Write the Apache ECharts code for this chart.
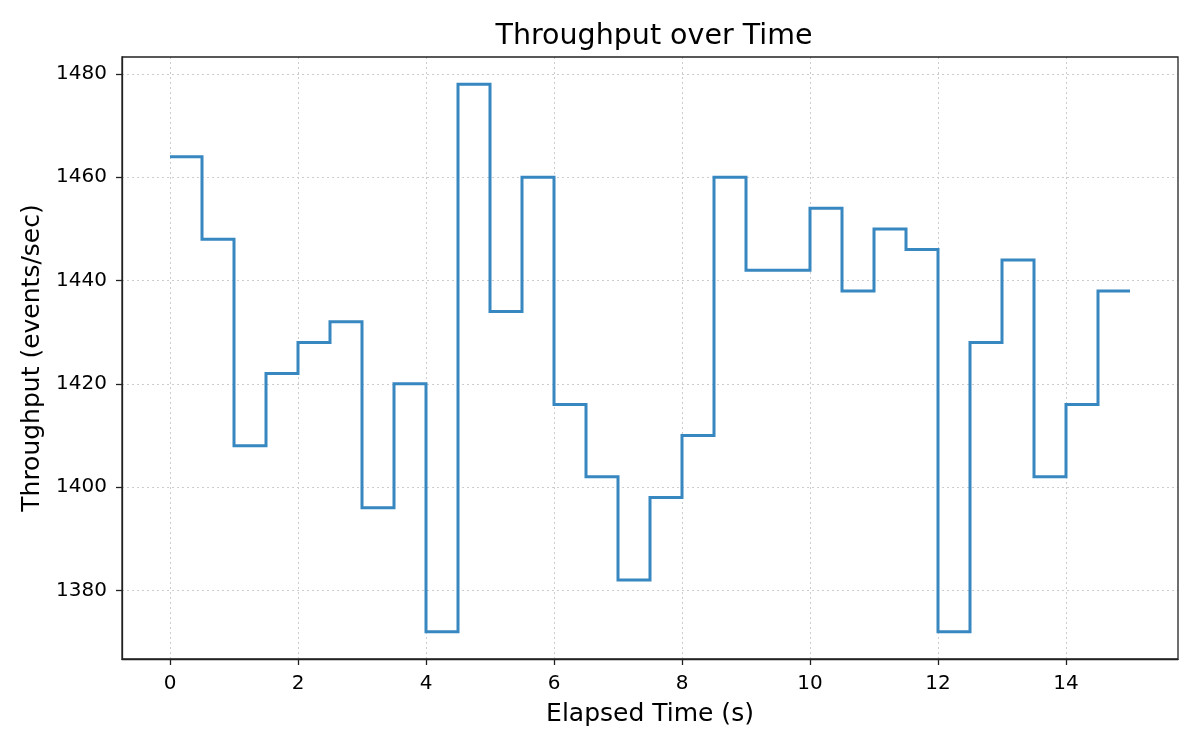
<!DOCTYPE html>
<html>
<head>
<meta charset="utf-8">
<title>Throughput over Time</title>
<script src="https://cdn.jsdelivr.net/npm/echarts@6/dist/echarts.min.js"></script>
<style>
	html, body { margin: 0; padding: 0; background: #fff; }
	#main { width: 1200px; height: 750px; }
</style>
</head>
<body>
<div id="main"></div>
<script>
// 数据：每 0.5 秒一个采样点（阶梯图，post）
var elapsed = [0, 0.5, 1, 1.5, 2, 2.5, 3, 3.5, 4, 4.5, 5, 5.5, 6, 6.5, 7, 7.5,
	8, 8.5, 9, 9.5, 10, 10.5, 11, 11.5, 12, 12.5, 13, 13.5, 14, 14.5, 15];
var throughput = [1464, 1448, 1408, 1422, 1428, 1432, 1396, 1420, 1372, 1478, 1434, 1460, 1416, 1402, 1382, 1398,
	1410, 1460, 1442, 1442, 1454, 1438, 1450, 1446, 1372, 1428, 1444, 1402, 1416, 1438, 1438];
var xTicks = [0, 2, 4, 6, 8, 10, 12, 14];
var yTicks = [1380, 1400, 1420, 1440, 1460, 1480];

var myChartStep = function() {
	var myChart = echarts.init(document.getElementById('main'));
	var font = 'DejaVu Sans';
	var points = elapsed.map(function(x, i) {
		return [x, throughput[i]];
	});

	var option = {
		animation : false,
		title : {
			text : 'Throughput over Time',
			left : 649,
			textAlign : 'center',
			top : 17,
			textStyle : {
				fontFamily : font,
				fontSize : 28.5,
				fontWeight : 'normal',
				color : '#000'
			}
		},
		grid : {
			left : 122,
			right : 22,
			top : 57,
			bottom : 91
		},
		xAxis : {
			type : 'value',
			min : -0.75,
			max : 15.75,
			name : 'Elapsed Time (s)',
			nameLocation : 'middle',
			nameGap : 43,
			nameTextStyle : { fontFamily : font, fontSize : 25, color : '#000' },
			axisLine : { onZero : false, lineStyle : { color : '#222', width : 1.3 } },
			axisTick : { show : true, length : 6, customValues : xTicks, lineStyle : { color : '#222', width : 1.3 } },
			axisLabel : { customValues : xTicks, fontFamily : font, fontSize : 20, color : '#000', margin : 15 },
			splitLine : { show : true, lineStyle : { color : '#cccccc', type : [2, 3], width : 1 } }
		},
		yAxis : {
			type : 'value',
			min : 1366.7,
			max : 1483.3,
			name : 'Throughput (events/sec)',
			nameLocation : 'middle',
			nameGap : 75,
			nameTextStyle : { fontFamily : font, fontSize : 25, color : '#000' },
			axisLine : { show : true, onZero : false, lineStyle : { color : '#222', width : 1.3 } },
			axisTick : { show : true, length : 6, customValues : yTicks, lineStyle : { color : '#222', width : 1.3 } },
			axisLabel : {
				customValues : yTicks, fontFamily : font, fontSize : 20, color : '#000', margin : 15,
				formatter : function(v) { return String(v); }
			},
			splitLine : { show : true, lineStyle : { color : '#cccccc', type : [2, 3], width : 1 } }
		},
		series : [ {
			name : 'Throughput',
			type : 'line',
			step : 'end',
			data : points,
			showSymbol : false,
			lineStyle : { color : '#3787c0', width : 3, join : 'miter' },
			z : 5
		} ]
	};
	myChart.setOption(option);

	// 右侧和顶部边框
	var g = myChart.getModel().getComponent('grid').coordinateSystem.getRect();
	myChart.setOption({
		graphic : [ {
			type : 'rect',
			shape : { x : g.x, y : g.y, width : g.width, height : g.height },
			style : { fill : 'none', stroke : '#222', lineWidth : 1.3 },
			silent : true,
			z : 10
		} ]
	});
}

myChartStep();
</script>
</body>
</html>
